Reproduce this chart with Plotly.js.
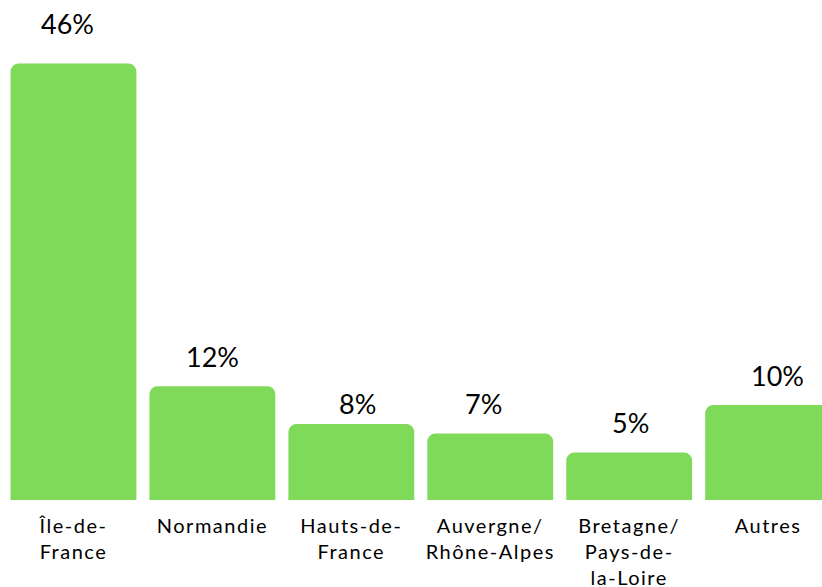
<!DOCTYPE html>
<html>
<head>
<meta charset="utf-8">
<script src="https://cdn.plot.ly/plotly-3.0.1.min.js"></script>
<style>
  html, body { margin: 0; padding: 0; background: #fff; }
  #chart { width: 822px; height: 587px; }
  #chart .xtick text { letter-spacing: 1.5px; }
</style>
</head>
<body>
<div id="chart"></div>
<script>
var regions = ["Île-de-<br>France", "Normandie", "Hauts-de-<br>France", "Auvergne/<br>Rhône-Alpes", "Bretagne/<br>Pays-de-<br>la-Loire", "Autres"];
var shares = [46, 12, 8, 7, 5, 10];
var shareLabels = ["46%", "12%", "8%", "7%", "5%", "10%"];

var idx = regions.map(function (r, i) { return i; });

// small hand nudges of the value labels, as in the original design
var nudgeX = [-6, 0, 6, -7, 1, 9];
var nudgeY = [40, 30, 21, 30, 30, 30];

var annotations = shares.map(function (v, i) {
  return {
    x: i,
    y: v,
    text: shareLabels[i],
    showarrow: false,
    xanchor: "center",
    yanchor: "middle",
    xshift: nudgeX[i],
    yshift: nudgeY[i],
    font: { family: "Lato, sans-serif", size: 27, color: "#000" }
  };
});

Plotly.newPlot(
  "chart",
  [
    {
      type: "bar",
      x: idx,
      y: shares,
      marker: { color: "#80da5a", cornerradius: 8 },
      hoverinfo: "none"
    }
  ],
  {
    width: 822,
    height: 587,
    margin: { l: 3.5, r: 0, t: 0, b: 87 },
    paper_bgcolor: "#fff",
    plot_bgcolor: "#fff",
    bargap: 0.094,
    showlegend: false,
    xaxis: {
      range: [-0.5, 5.388],
      tickmode: "array",
      tickvals: idx,
      ticktext: regions,
      showgrid: false,
      zeroline: false,
      showline: false,
      ticks: "",
      ticklabelstandoff: 12,
      tickfont: { family: "Lato, sans-serif", size: 20, color: "#000" },
      fixedrange: true
    },
    yaxis: {
      range: [0, 52.7],
      visible: false,
      fixedrange: true
    },
    annotations: annotations
  },
  { displayModeBar: false, staticPlot: true }
);
</script>
</body>
</html>
